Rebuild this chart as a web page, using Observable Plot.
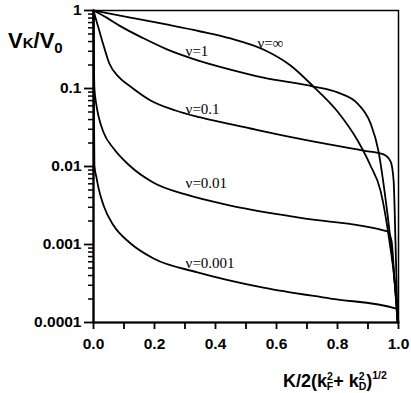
<!DOCTYPE html>
<html><head><meta charset="utf-8">
<script src="https://cdn.jsdelivr.net/npm/d3@7"></script>
<script src="https://cdn.jsdelivr.net/npm/@observablehq/plot@0.6"></script>
<style>body{margin:0;background:#fff} svg{display:block}</style>
</head><body><div id="chart"></div>
<script>
// Series: [K/2(kF^2+kD^2)^1/2, V_K/V_0]
const curveInf = [[0,1],[0.121,0.813],[0.239,0.662],[0.351,0.538],[0.449,0.438],[0.557,0.316],[0.646,0.197],[0.721,0.106],[0.800,0.0507],[0.866,0.0215],[0.908,0.0103],[0.941,0.0049],[0.970,0.00112],[0.990,0.00026],[0.997,0.0001]];
const curve1 = [[0,1],[0.043,0.81],[0.085,0.64],[0.164,0.44],[0.239,0.32],[0.341,0.23],[0.449,0.175],[0.557,0.138],[0.721,0.106],[0.800,0.089],[0.866,0.064],[0.908,0.036],[0.934,0.016],[0.954,0.0049],[0.974,0.00112],[0.990,0.00026],[0.999,0.0001]];
const curve01 = [[0,1],[0.0066,0.81],[0.016,0.605],[0.033,0.356],[0.052,0.209],[0.085,0.138],[0.121,0.106],[0.187,0.0702],[0.269,0.0522],[0.351,0.0425],[0.515,0.0307],[0.669,0.0229],[0.885,0.016],[0.951,0.0143],[0.974,0.0116],[0.984,0.0066],[0.990,0.00112],[0.997,0.0001]];
const curve001 = [[0,1],[0.001,0.31],[0.003,0.1],[0.0098,0.0605],[0.016,0.045],[0.033,0.0273],[0.066,0.017],[0.118,0.0103],[0.197,0.0062],[0.302,0.00438],[0.449,0.00316],[0.669,0.00222],[0.964,0.00147],[0.977,0.00112],[0.987,0.00035],[0.997,0.0001]];
const curve0001 = [[0,1],[0.0007,0.127],[0.003,0.0103],[0.0098,0.0072],[0.016,0.0054],[0.033,0.00316],[0.066,0.00175],[0.118,0.00106],[0.197,0.00066],[0.341,0.00044],[0.557,0.00028],[0.777,0.000203],[0.993,0.000151],[1.0,0.0001]];

const seriesNames = ["ν=∞","ν=1","ν=0.1","ν=0.01","ν=0.001"];
const labelX = [0.538, 0.302, 0.302, 0.302, 0.302];
const labelV = [0.38, 0.30, 0.055, 0.0061, 0.00057];

const yTickValues = [1e-4, 1e-3, 1e-2, 1e-1, 1];
const yTickLabels = ["0.0001", "0.001", "0.01", "0.1", "1"];
const xTickValues = [0,0.1,0.2,0.3,0.4,0.5,0.6,0.7,0.8,0.9,1.0];
const xTickLabels = ["0.0","","0.2","","0.4","","0.6","","0.8","","1.0"];

const curves = [curveInf, curve1, curve01, curve001, curve0001];
const rows = curves.flatMap((c, s) => c.map(([x, v]) => ({series: seriesNames[s], x, v})));
const labels = seriesNames.map((name, i) => ({name, x: labelX[i], v: labelV[i]}));
const minorY = [];
for (const d of [1e-4, 1e-3, 1e-2, 1e-1]) for (let k = 2; k <= 9; k++) minorY.push(d * k);

const lookup = (vals, labs) => d => {
  const i = vals.findIndex(v => Math.abs(v - d) <= Math.abs(v) * 1e-6 + 1e-12);
  return i < 0 ? "" : labs[i];
};

const chart = Plot.plot({
  width: 411,
  height: 393,
  marginLeft: 93,
  marginRight: 13,
  marginTop: 10,
  marginBottom: 71,
  style: {fontFamily: "'Liberation Sans', Arial, sans-serif", fontSize: "15.5px", fontWeight: "bold", background: "#fff", color: "#000"},
  x: {domain: [0, 1]},
  y: {type: "log", domain: [1e-4, 1]},
  marks: [
    Plot.frame({strokeWidth: 1.5}),
    Plot.ruleX([0], {strokeWidth: 2.2}),
    Plot.ruleY([1e-4], {strokeWidth: 2}),
    Plot.axisY({ticks: minorY, tickSize: 5, strokeWidth: 1.5, label: null, tickFormat: () => ""}),
    Plot.axisY({ticks: yTickValues, tickSize: 9, tickPadding: 3, strokeWidth: 1.8, label: null,
      tickFormat: lookup(yTickValues, yTickLabels)}),
    Plot.axisX({ticks: xTickValues, tickSize: 7, tickPadding: 8, strokeWidth: 1.8, label: null,
      tickFormat: lookup(xTickValues, xTickLabels)}),
    Plot.line(rows, {x: "x", y: "v", z: "series", stroke: "#000", strokeWidth: 1.8, curve: "monotone-x"}),
    Plot.text(labels, {x: "x", y: "v", text: "name", textAnchor: "start",
      fontFamily: "'Liberation Serif', 'Times New Roman', serif", fontSize: 15, fontWeight: "normal", fill: "#000"})
  ]
});

const svg = d3.select(chart);
const yt = svg.append("text").attr("x", 8).attr("y", 48).attr("text-anchor", "start")
  .attr("font-family", "'Liberation Sans', Arial, sans-serif").attr("font-weight", "bold").attr("fill", "#000");
yt.append("tspan").attr("font-size", 22).text("V");
yt.append("tspan").attr("font-size", 15).text("K");
yt.append("tspan").attr("font-size", 22).text("/V");
yt.append("tspan").attr("font-size", 15).attr("dy", 5).text("0");

const xt = svg.append("text").attr("x", 283).attr("y", 387).attr("text-anchor", "start")
  .attr("font-family", "'Liberation Sans', Arial, sans-serif").attr("font-weight", "bold").attr("fill", "#000");
xt.append("tspan").attr("font-size", 18).text("K/2(k");
xt.append("tspan").attr("font-size", 10.5).attr("dy", -7).text("2");
xt.append("tspan").attr("font-size", 10.5).attr("dx", -6).attr("dy", 10).text("F");
xt.append("tspan").attr("font-size", 18).attr("dy", -3).text("+ k");
xt.append("tspan").attr("font-size", 10.5).attr("dy", -7).text("2");
xt.append("tspan").attr("font-size", 10.5).attr("dx", -6).attr("dy", 10).text("D");
xt.append("tspan").attr("font-size", 18).attr("dy", -3).text(")");
xt.append("tspan").attr("font-size", 10.5).attr("dy", -8).text("1/2");

document.getElementById("chart").appendChild(chart);
</script>
</body></html>
